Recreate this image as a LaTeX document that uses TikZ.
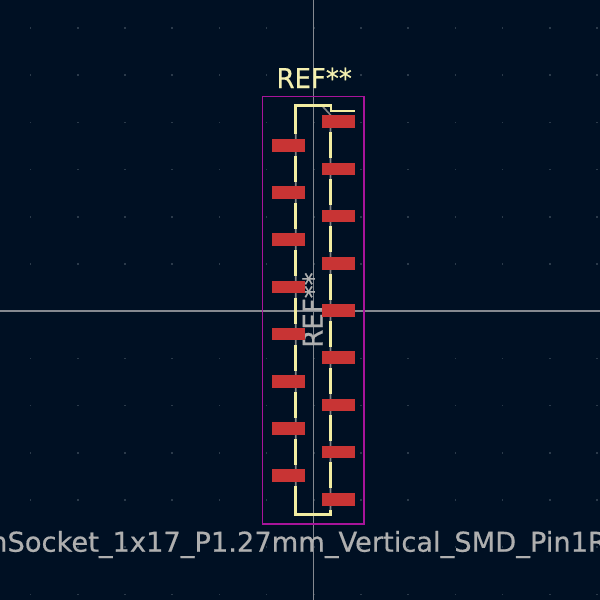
\documentclass[tikz,border=0pt]{standalone}
\usepackage{fontspec}
\setmainfont[FakeBold=0.5]{DejaVu Sans}
\definecolor{bgc}{HTML}{001023}
\definecolor{padc}{HTML}{C83434}
\definecolor{silkc}{HTML}{F2EDA1}
\definecolor{crtc}{HTML}{A8149A}
\definecolor{fabc}{HTML}{858585}
\definecolor{txtc}{HTML}{AFAFAF}
\definecolor{crossc}{HTML}{858990}
\definecolor{gridc}{HTML}{2B3A4A}
\tikzset{
  padbox/.style={fill=padc,draw=none},
  silk/.style={draw=silkc,line width=2.6pt,line cap=butt,line join=miter},
  fab/.style={draw=fabc,line width=1.6pt},
  crt/.style={draw=crtc,line width=1.4pt},
  cross/.style={draw=crossc,line width=1.1pt},
  bigtext/.style={inner sep=0pt,font=\fontsize{27.3}{30}\selectfont},
}
\begin{document}
\begin{tikzpicture}[x=1pt,y=-1pt]
\useasboundingbox (0,0) rectangle (600,600);
\fill[bgc] (0,0) rectangle (600,600);
\clip (0,0) rectangle (600,600);
% grid
\foreach \i in {0,...,12}{
  \foreach \j in {0,...,12}{
    \fill[gridc] ({30.6+47.2*\i-0.8},{28+47.2*\j-0.8}) rectangle ++(1.6,1.6);
  }
}
% crosshair
\draw[cross] (313.5,0) -- (313.5,600);
\draw[cross] (0,311) -- (600,311);
% courtyard
\draw[crt] (262.7,96.7) rectangle (364,524);
% fab outline
\draw[fab] (295.7,105.7) -- (322,105.7) -- (330.5,115) -- (330.5,514.3) -- (295.7,514.3) -- cycle;
% silk
\draw[silk] (295.5,134) -- (295.5,105.5) -- (331,105.5) -- (331,110.8) -- (355,110.8);
\foreach \k in {0,...,7}{
  \draw[silk] (330.5,{132+47.2*\k}) -- (330.5,{158+47.2*\k});
}
\foreach \k in {0,...,6}{
  \draw[silk] (295.5,{156+47.2*\k}) -- (295.5,{182+47.2*\k});
}
\draw[silk] (295.5,486) -- (295.5,514.5) -- (330.5,514.5) -- (330.5,510);
% reference on fab layer
\node[bigtext,text=txtc,rotate=90,anchor=base] (fabref) at (322.7,310) {\scalebox{0.95}[1]{REF**}};
% pads
\foreach \k in {0,...,8}{
  \fill[padbox] (322,{115.4+47.2*\k}) rectangle (355,{128+47.2*\k});
}
\foreach \k in {0,...,7}{
  \fill[padbox] (271.8,{139+47.2*\k}) rectangle (305,{151.6+47.2*\k});
}
% texts
\node[bigtext,text=silkc!85!white,anchor=base] (silkref) at (314.2,88) {\scalebox{0.95}[1]{REF**}};
\node[bigtext,text=txtc,anchor=base west] (fpname) at (-10,551.7) {nSocket\_1x17\_P1.27mm\_Vertical\_SMD\_Pin1R};
\end{tikzpicture}
\end{document}
